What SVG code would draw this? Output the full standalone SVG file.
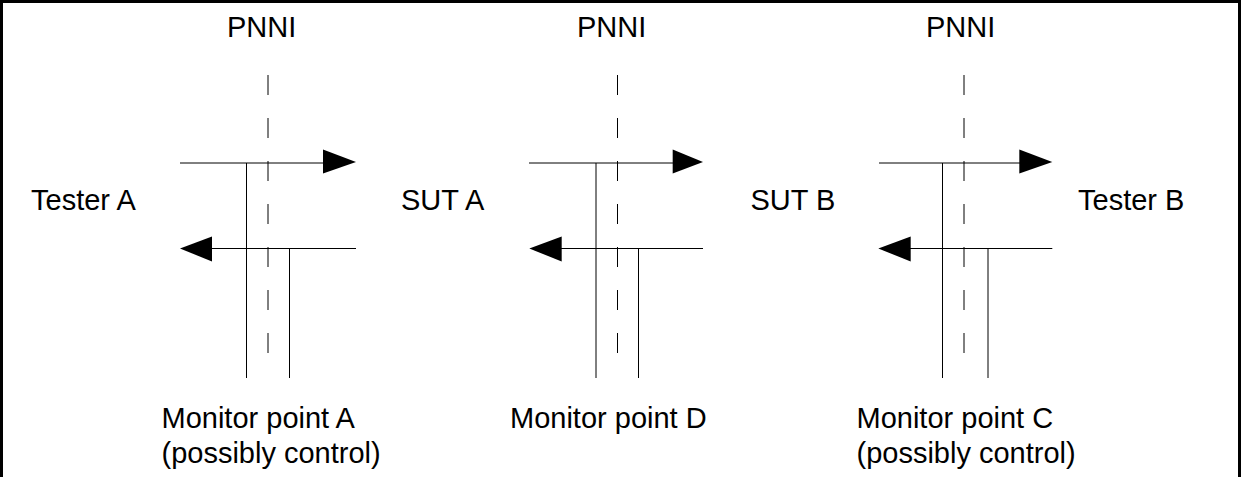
<svg xmlns="http://www.w3.org/2000/svg" width="1241" height="477" viewBox="0 0 1241 477">
  <style>
    .lbl { font-family: "Liberation Sans", Arial, sans-serif; font-size: 29px; fill: #000; }
    .ln { stroke: #000; stroke-width: 1; fill: none; }
    .dash { stroke: #000; stroke-width: 1; fill: none; stroke-dasharray: 20 23; }
    .head { fill: #000; stroke: none; }
  </style>

  <rect x="0" y="0" width="1241" height="477" fill="#fff"/>
  <!-- frame: open at the bottom -->
  <path d="M1.5,477 V1.5 H1239.5 V477" fill="none" stroke="#000" stroke-width="3"/>

  <!-- side labels -->
  <g id="tester-a"><text class="lbl" x="31" y="210">Tester A</text></g>
  <g id="sut-a"><text class="lbl" x="401" y="210">SUT A</text></g>
  <g id="sut-b"><text class="lbl" x="750.5" y="210">SUT B</text></g>
  <g id="tester-b"><text class="lbl" x="1078" y="210">Tester B</text></g>

  <!-- interface labels -->
  <g id="pnni-1"><text class="lbl" x="227" y="36.5">PNNI</text></g>
  <g id="pnni-2"><text class="lbl" x="577" y="36.5">PNNI</text></g>
  <g id="pnni-3"><text class="lbl" x="926" y="36.5">PNNI</text></g>

  <!-- monitor points -->
  <g id="monitor-a">
    <text class="lbl" x="161.5" y="428">Monitor point A</text>
    <text class="lbl" x="161.5" y="463">(possibly control)</text>
  </g>
  <g id="monitor-d">
    <text class="lbl" x="510" y="428">Monitor point D</text>
  </g>
  <g id="monitor-c">
    <text class="lbl" x="856.5" y="428">Monitor point C</text>
    <text class="lbl" x="856.5" y="463">(possibly control)</text>
  </g>

  <g id="connectors">
    <!-- interface 1 -->
    <line class="dash" x1="268" y1="75" x2="268" y2="356"/>
    <line class="ln" x1="180" y1="163" x2="324" y2="163"/>
    <polygon class="head" points="323,149.5 356,162 323,173.5"/>
    <line class="ln" x1="211" y1="248.5" x2="356" y2="248.5"/>
    <polygon class="head" points="180,248.5 212,236.5 212,261.5"/>
    <line class="ln" x1="246.5" y1="163" x2="246.5" y2="378"/>
    <line class="ln" x1="289.5" y1="248.5" x2="289.5" y2="378"/>

    <!-- interface 2 -->
    <line class="dash" x1="617.5" y1="75" x2="617.5" y2="356"/>
    <line class="ln" x1="529" y1="163" x2="674" y2="163"/>
    <polygon class="head" points="672.7,149.5 703,162 672.7,173.5"/>
    <line class="ln" x1="561" y1="248.5" x2="703" y2="248.5"/>
    <polygon class="head" points="529.3,248.5 561.7,236.5 561.7,261.5"/>
    <line class="ln" x1="596" y1="163" x2="596" y2="378"/>
    <line class="ln" x1="638.5" y1="248.5" x2="638.5" y2="378"/>

    <!-- interface 3 -->
    <line class="dash" x1="964" y1="75" x2="964" y2="356"/>
    <line class="ln" x1="879" y1="163" x2="1020" y2="163"/>
    <polygon class="head" points="1019.3,149.5 1052.3,162 1019.3,173.5"/>
    <line class="ln" x1="910" y1="248.5" x2="1052.3" y2="248.5"/>
    <polygon class="head" points="878.3,248.5 910.7,236.5 910.7,261.5"/>
    <line class="ln" x1="942.5" y1="163" x2="942.5" y2="378"/>
    <line class="ln" x1="988" y1="248.5" x2="988" y2="378"/>
  </g>
</svg>
